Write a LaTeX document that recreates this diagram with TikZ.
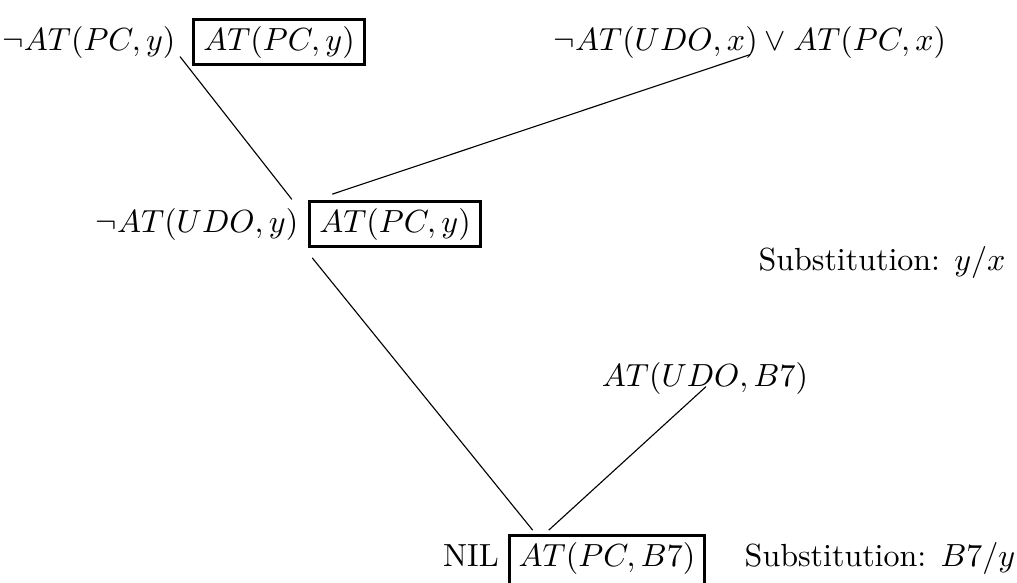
\documentclass[tikz,border=0pt]{standalone}
\usetikzlibrary{calc}
\begin{document}
\begin{tikzpicture}[x=0.3125pt,y=-0.3125pt,
  txt/.style={inner sep=0pt},
  clause/.style={draw,line width=0.9pt,inner xsep=3pt,inner ysep=2pt},
  link/.style={line width=0.35pt}]
\useasboundingbox (0,0) rectangle (1017,582);
\clip (0,0) rectangle (1017,582);
\node[txt] (c1) at (89,42) {$\neg AT(PC,y)$};
\node[clause] (b1) at (279,42) {$AT(PC,y)$};
\node[txt] (c2) at (750,42) {$\neg AT(UDO,x) \vee AT(PC,x)$};
\node[txt] (c3) at (197,224) {$\neg AT(UDO,y)$};
\node[clause] (b2) at (395,224) {$AT(PC,y)$};
\node[txt] (s1) at (882,262) {Substitution: $y/x$};
\node[txt] (c4) at (705,378) {$AT(UDO,B7)$};
\node[txt,anchor=base] (nil) at (471,566) {NIL};
\node[clause,anchor=base,text depth=10pt] (b3) at (607,566) {$AT(PC,B7)$};
\node[txt,anchor=base] (s2) at (880,566) {Substitution: $B7/y$};
\draw[link] ($(c1.south east)+(4,-2)$) -- ($(c3.north east)+(-7,-8)$);
\draw[link] ($(c2.south)+(0,-4)$) -- ($(b2.north west)+(24,-6)$);
\draw[link] ($(b2.south west)+(4,10)$) -- ($(b3.north west)+(25,-4)$);
\draw[link] ($(c4.south)+(1,-8)$) -- ($(b3.north west)+(41,-4)$);
\end{tikzpicture}
\end{document}
